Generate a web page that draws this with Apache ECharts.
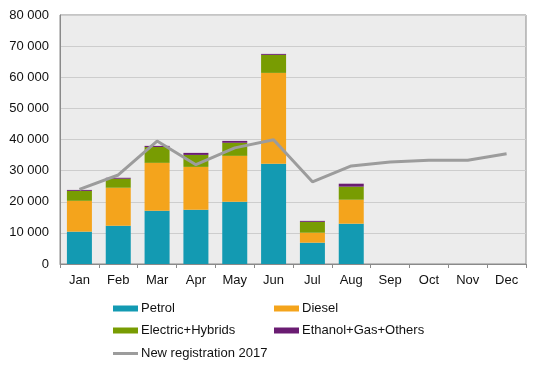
<!DOCTYPE html>
<html><head><meta charset="utf-8">
<script src="https://cdn.jsdelivr.net/npm/echarts@6/dist/echarts.min.js"></script>
<style>html,body{margin:0;padding:0;background:#fff}#c{width:541px;height:370px}</style>
</head><body><div id="c"></div>
<script>
const months = ['Jan','Feb','Mar','Apr','May','Jun','Jul','Aug','Sep','Oct','Nov','Dec'];
const petrol   = [10400, 12300, 17100, 17400, 20000, 32200, 6850, 12950];
const diesel   = [9900, 12200, 15400, 13800, 14750, 29200, 3200, 7700];
const electric = [3200, 2900, 5100, 3850, 4200, 5800, 3500, 4200];
const ethanol  = [300, 300, 350, 650, 600, 300, 300, 950];
const reg2017  = [24000, 28600, 39500, 31900, 37300, 39900, 26400, 31500, 32800, 33300, 33300, 35400];
const yTicks = [0, 10000, 20000, 30000, 40000, 50000, 60000, 70000, 80000];

const font = 'Liberation Sans, Arial, sans-serif';
const fs = 13;
const fmt = v => String(v).replace(/\B(?=(\d{3})+(?!\d))/g, ' ');
const colors = {Petrol:'#139ab2', Diesel:'#f4a41c', 'Electric+Hybrids':'#789c02', 'Ethanol+Gas+Others':'#6a1c72', 'New registration 2017':'#9c9c9c'};

function legend(name, left, top, isLine) {
  return {
    data: [{name: name, icon: 'rect'}],
    left: left, top: top, orient: 'horizontal',
    itemWidth: 25, itemHeight: isLine ? 3 : 6, itemGap: 0,
    padding: 0,
    textStyle: {fontFamily: font, fontSize: fs, color: '#111', padding: [0,0,0,-2]},
    selectedMode: false
  };
}

const chart = echarts.init(document.getElementById('c'), null, {renderer: 'canvas'});
const barSeries = (name, data) => ({
  name: name, type: 'bar', stack: 'total', data: data,
  barWidth: 25, itemStyle: {color: colors[name]}, animation: false
});
chart.setOption({
  animation: false,
  textStyle: {fontFamily: font},
  grid: {left: 60, right: 15, top: 15, bottom: 106, show: true, backgroundColor: '#ececec', borderColor: '#8a8a8a', borderWidth: 1},
  legend: [
    legend('Petrol', 113, 302, false),
    legend('Diesel', 274, 302, false),
    legend('Electric+Hybrids', 113, 324, false),
    legend('Ethanol+Gas+Others', 274, 324, false),
    legend('New registration 2017', 113, 347, true)
  ],
  xAxis: {
    type: 'category', data: months, boundaryGap: true,
    axisLine: {show: true, lineStyle: {color: '#8a8a8a', width: 1}},
    axisTick: {show: true, alignWithLabel: false, length: 4, lineStyle: {color: '#8a8a8a'}},
    axisLabel: {color: '#111', fontSize: fs, fontFamily: font, margin: 10}
  },
  yAxis: {
    type: 'value', min: yTicks[0], max: yTicks[yTicks.length-1], interval: 10000,
    axisLine: {show: true, lineStyle: {color: '#8a8a8a'}},
    axisTick: {show: false},
    splitLine: {show: true, lineStyle: {color: '#cdcdcd', width: 1}},
    axisLabel: {color: '#111', fontSize: fs, fontFamily: font, margin: 11, formatter: fmt}
  },
  series: [
    barSeries('Petrol', petrol),
    barSeries('Diesel', diesel),
    barSeries('Electric+Hybrids', electric),
    barSeries('Ethanol+Gas+Others', ethanol),
    {name: 'New registration 2017', type: 'line', data: reg2017, symbol: 'none', showSymbol: false,
     lineStyle: {color: colors['New registration 2017'], width: 3}, itemStyle: {color: colors['New registration 2017']}, z: 5}
  ]
});
</script></body></html>
